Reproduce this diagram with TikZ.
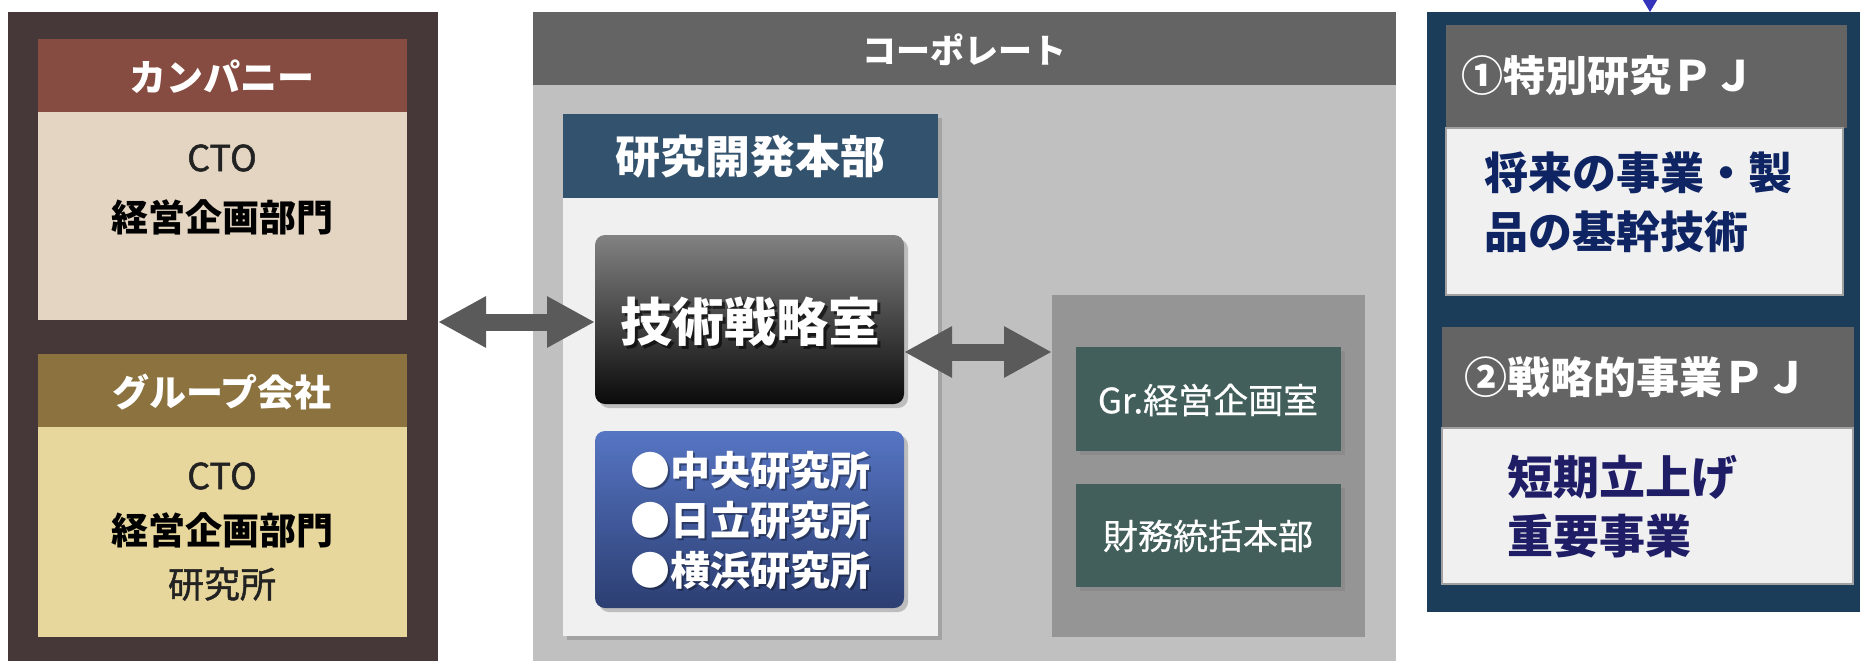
\documentclass[tikz,border=0pt]{standalone}
\usepackage{fontspec}
\setmainfont{Noto Sans CJK JP}
\newfontfamily\medfont[FakeBold=1.3]{Noto Sans CJK JP}
\newfontfamily\semifont[FakeBold=0.6]{Noto Sans CJK JP}
\usetikzlibrary{arrows.meta,shadows,calc}
\definecolor{leftbg}{HTML}{463738}
\definecolor{comphead}{HTML}{874C41}
\definecolor{compbody}{HTML}{E3D5C2}
\definecolor{grphead}{HTML}{8B723E}
\definecolor{grpbody}{HTML}{E7D79D}
\definecolor{corphead}{HTML}{646464}
\definecolor{corpbody}{HTML}{C0C0C0}
\definecolor{rdhead}{HTML}{33526E}
\definecolor{panelbody}{HTML}{F0F0F0}
\definecolor{innergray}{HTML}{959595}
\definecolor{greenbox}{HTML}{425F5B}
\definecolor{rightbg}{HTML}{1B3D5A}
\definecolor{arrowgray}{HTML}{5A5A5A}
\definecolor{navyA}{HTML}{0E2463}
\definecolor{navyB}{HTML}{1F1D66}
\definecolor{tipblue}{HTML}{3333BB}
\definecolor{bordergray}{HTML}{A0A0A0}
\definecolor{labtop}{HTML}{5675C3}
\definecolor{labbot}{HTML}{2C3E72}
\definecolor{techtop}{HTML}{828282}
\definecolor{techbot}{HTML}{0A0A0A}
\definecolor{textdark}{HTML}{222222}
\begin{document}
\begin{tikzpicture}[x=1pt,y=-1pt,
  box/.style={rectangle, inner sep=0pt, outer sep=0pt, anchor=north west},
  shad/.style={drop shadow={opacity=0.45, shadow xshift=4pt, shadow yshift=-4pt}},
  lbl/.style={inner sep=0pt, outer sep=0pt, anchor=center},
  bfs/.style={font=\fontsize{#1}{#1}\selectfont\bfseries},
  mds/.style={font=\fontsize{#1}{#1}\selectfont\medfont},
  sms/.style={font=\fontsize{#1}{#1}\selectfont\semifont},
  dblarrow/.style={draw=arrowgray, line width=17pt,
     {Triangle[length=48pt,width=48pt]}-{Triangle[length=48pt,width=48pt]}}
]
\useasboundingbox (0,0) rectangle (1860,661);
\clip (0,0) rectangle (1860,661);
\fill[white] (0,0) rectangle (1860,661);

% ---------- left panel ----------
\node[box, fill=leftbg, minimum width=430pt, minimum height=660pt] (left) at (8,12) {};
\node[box, fill=comphead, minimum width=369pt, minimum height=73pt] (kh) at (38,39) {};
\node[box, fill=compbody, minimum width=369pt, minimum height=208pt] (kb) at (38,112) {};
\node[box, fill=grphead, minimum width=369pt, minimum height=73pt] (gh) at (38,354) {};
\node[box, fill=grpbody, minimum width=369pt, minimum height=210pt] (gb) at (38,427) {};

\node[lbl, text=white, bfs=37] (t1) at (222,77) {カンパニー};
\node[lbl, text=textdark, mds=36] (t2) at (222,158) {CTO};
\node[lbl, text=black, bfs=37] (t3) at (222,217) {経営企画部門};
\node[lbl, text=white, bfs=37] (t4) at (222,392) {グループ会社};
\node[lbl, text=textdark, mds=36] (t5) at (222,476) {CTO};
\node[lbl, text=black, bfs=37] (t6) at (222,530) {経営企画部門};
\node[lbl, text=textdark, mds=36] (t7) at (222,584) {研究所};

% ---------- corporate ----------
\node[box, fill=corpbody, minimum width=863pt, minimum height=660pt] (corp) at (533,12) {};
\node[box, fill=corphead, minimum width=863pt, minimum height=73pt] (corph) at (533,12) {};
\node[lbl, text=white, bfs=34] (t8) at (964,50) {コーポレート};

\node[box, fill=panelbody, minimum width=375pt, minimum height=522pt, shad] (rd) at (563,114) {};
\node[box, fill=rdhead, minimum width=375pt, minimum height=84pt] (rdh) at (563,114) {};
\node[lbl, text=white, bfs=45] (t9) at (750,157) {研究開発本部};

\node[box, minimum width=309pt, minimum height=169pt, rounded corners=10pt,
      top color=techtop, bottom color=techbot, shad] (tech) at (595,235) {};
\node[lbl, text=black, opacity=0.6, bfs=52] (t10s) at (753,325) {技術戦略室};
\node[lbl, text=white, bfs=52] (t10) at (750,322) {技術戦略室};

\node[box, minimum width=309pt, minimum height=177pt, rounded corners=10pt,
      top color=labtop, bottom color=labbot, shad] (labs) at (595,431) {};
\node[lbl, text=black, opacity=0.35, font=\fontsize{40}{50}\selectfont\bfseries, align=left] (t11s) at (752,522)
  {●中央研究所\\●日立研究所\\●横浜研究所};
\node[lbl, text=white, font=\fontsize{40}{50}\selectfont\bfseries, align=left] (t11) at (750,520)
  {●中央研究所\\●日立研究所\\●横浜研究所};

\node[box, fill=innergray, minimum width=313pt, minimum height=342pt] (inner) at (1052,295) {};
\node[box, fill=greenbox, minimum width=265pt, minimum height=104pt, shad] (gr) at (1076,347) {};
\node[box, fill=greenbox, minimum width=265pt, minimum height=103pt, shad] (zm) at (1076,484) {};
\node[lbl, text=white, sms=35] (t12) at (1208,400) {Gr.経営企画室};
\node[lbl, text=white, sms=35] (t13) at (1208,536) {財務統括本部};

% ---------- arrows ----------
\coordinate (ly) at (0,322);
\coordinate (ry) at (0,352);
\draw[dblarrow] (left.east |- ly) -- (tech.west |- ly);
\draw[dblarrow] (tech.east |- ry) -- (inner.west |- ry);

% ---------- right panel ----------
\node[box, fill=rightbg, minimum width=440pt, minimum height=600pt] (right) at (1427,12) {};
\node[box, fill=corphead, minimum width=401pt, minimum height=103pt] (p1h) at (1446,25) {};
\node[box, fill=panelbody, draw=bordergray, line width=1.5pt, minimum width=397pt, minimum height=167pt] (p1b) at (1446,128) {};
\node[box, fill=corphead, minimum width=412pt, minimum height=101pt] (p2h) at (1442,327) {};
\node[box, fill=panelbody, draw=bordergray, line width=1.5pt, minimum width=411pt, minimum height=156pt] (p2b) at (1442,428) {};

\node[inner sep=0pt, anchor=west, text=white, bfs=42] (t14) at (1461,76) {①特別研究ＰＪ};
\node[inner sep=0pt, anchor=north west, text=navyA, font=\fontsize{44}{59}\selectfont\bfseries, align=left] (t15) at (1484,152)
  {将来の事業・製\\品の基幹技術};
\node[inner sep=0pt, anchor=west, text=white, bfs=43] (t16) at (1464,377) {②戦略的事業ＰＪ};
\node[inner sep=0pt, anchor=north west, text=navyB, font=\fontsize{46}{59}\selectfont\bfseries, align=left] (t17) at (1507,455)
  {短期立上げ\\重要事業};

% incoming arrow tip at top
\coordinate (topin) at (1650,0);
\draw[tipblue, line width=1pt, -{Triangle[length=12pt,width=14pt]}] (topin) -- (right.north -| topin);
\end{tikzpicture}
\end{document}
